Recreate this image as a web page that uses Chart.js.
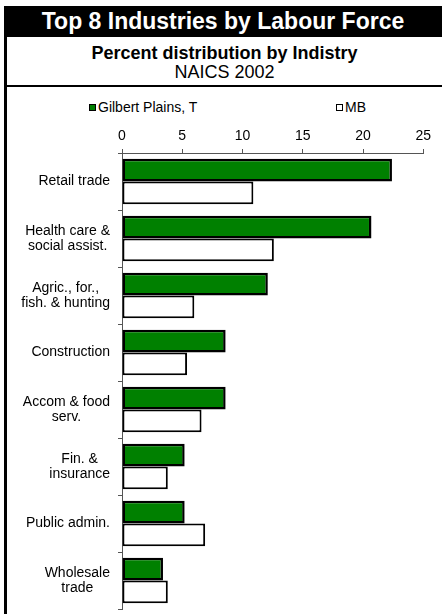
<!DOCTYPE html>
<html>
<head>
<meta charset="utf-8">
<script src="https://cdn.jsdelivr.net/npm/chart.js@4/dist/chart.umd.min.js"></script>
<style>
  body { margin: 0; background: #fff; font-family: "Liberation Sans", Arial, sans-serif; }
  .abs { position: absolute; }
  #band { left: 4px; top: 6px; width: 438px; height: 31px; background: #000; color: #fff;
          font-weight: bold; font-size: 23px; line-height: 31px; text-align: center; }
  #leftline { left: 4px; top: 6px; width: 3px; height: 608px; background: #000; }
  #rule { left: 4px; top: 85px; width: 438px; height: 2px; background: #000; }
  #sub1 { left: 7px; top: 43px; width: 435px; text-align: center; font-weight: bold; font-size: 18px; }
  #sub2 { left: 7px; top: 62px; width: 435px; text-align: center; font-size: 18px; }
  .leg { top: 99px; font-size: 14px; line-height: 16px; white-space: nowrap; }
  .leg i { display: inline-block; width: 5px; height: 5px; border: 1.5px solid #000;
           margin-right: 2px; vertical-align: 1px; }
  #canvas { left: 7px; top: 87px; }
</style>
</head>
<body>
<div id="band" class="abs">Top 8 Industries by Labour Force</div>
<div id="leftline" class="abs"></div>
<div id="sub1" class="abs">Percent distribution by Indistry</div>
<div id="sub2" class="abs">NAICS 2002</div>
<div id="rule" class="abs"></div>
<div id="leg0" class="abs leg" style="left:89px"></div>
<div id="leg1" class="abs leg" style="left:336px"></div>
<canvas id="canvas" class="abs"></canvas>

<script>
// industries, top to bottom
let categories = [
  ['Retail trade'],
  ['Health care &', 'social assist.'],
  ['Agric., for.,', 'fish. & hunting'],
  ['Construction'],
  ['Accom & food', 'serv.'],
  ['Fin. &', 'insurance'],
  ['Public admin.'],
  ['Wholesale', 'trade']
];

// percent of labour force
let gilbertPlains = [22.4, 20.7, 12.1, 8.6, 8.6, 5.2, 5.2, 3.4];
let manitoba      = [10.9, 12.6, 6.0, 5.4, 6.6, 3.8, 6.9, 3.8];

let seriesNames = ['Gilbert Plains, T', 'MB'];
let xMin = 0, xMax = 25, xStep = 5;

let width = 435;
let height = 527;

Chart.defaults.font.family = '"Liberation Sans", Arial, sans-serif';
Chart.defaults.font.size = 14;
Chart.defaults.color = '#000';

// y labels: each block right aligned, lines centred inside it
let blockLabels = {
  id: 'blockLabels',
  afterDraw(chart) {
    let scale = chart.scales.y;
    let ctx = chart.ctx;
    let right = scale.right - 12;
    let lineH = 15.5;
    ctx.save();
    ctx.font = '14px "Liberation Sans", Arial, sans-serif';
    ctx.fillStyle = '#000';
    ctx.textAlign = 'center';
    ctx.textBaseline = 'middle';
    categories.forEach((lines, i) => {
      let y = scale.getPixelForTick(i);
      let w = Math.max(...lines.map(l => ctx.measureText(l).width));
      lines.forEach((l, j) => {
        ctx.fillText(l, right - w / 2, y + (j - (lines.length - 1) / 2) * lineH);
      });
    });
    ctx.restore();
  }
};

let options = {
  type: 'bar',
  data: {
    labels: categories,
    datasets: [{
      label: seriesNames[0],
      data: gilbertPlains,
      backgroundColor: 'rgb(0,128,0)',
      borderColor: '#000',
      borderWidth: 2.5,
      borderSkipped: false,
      categoryPercentage: 0.8,
      barPercentage: 1.0
    }, {
      label: seriesNames[1],
      data: manitoba,
      backgroundColor: '#fff',
      borderColor: '#000',
      borderWidth: 2,
      borderSkipped: false,
      categoryPercentage: 0.8,
      barPercentage: 1.0
    }]
  },
  options: {
    indexAxis: 'y',
    animation: false,
    responsive: false,
    layout: { padding: { top: 34, right: 18.7, bottom: 5, left: 0 } },
    plugins: {
      legend: { display: false },
      tooltip: { enabled: false }
    },
    scales: {
      x: {
        position: 'top',
        min: xMin,
        max: xMax,
        ticks: { stepSize: xStep, padding: 4 },
        grid: { drawOnChartArea: false, drawTicks: true, tickLength: 4, color: '#555' },
        border: { display: true, color: '#555' },
        afterFit: s => { s.height = 32; }
      },
      y: {
        ticks: { display: false },
        grid: { drawOnChartArea: false, drawTicks: true, tickLength: 4, color: '#555' },
        border: { display: true, color: '#555' },
        afterFit: s => { s.width = 115; }
      }
    }
  },
  plugins: [blockLabels]
};

let context = document.getElementById('canvas');
context.width = width;
context.height = height;

let chart = new Chart(context, options);

// legend entries taken from the datasets
chart.data.datasets.forEach((ds, i) => {
  let el = document.getElementById('leg' + i);
  el.innerHTML = '<i style="background:' + ds.backgroundColor + '"></i>' + ds.label;
});
</script>
</body>
</html>
